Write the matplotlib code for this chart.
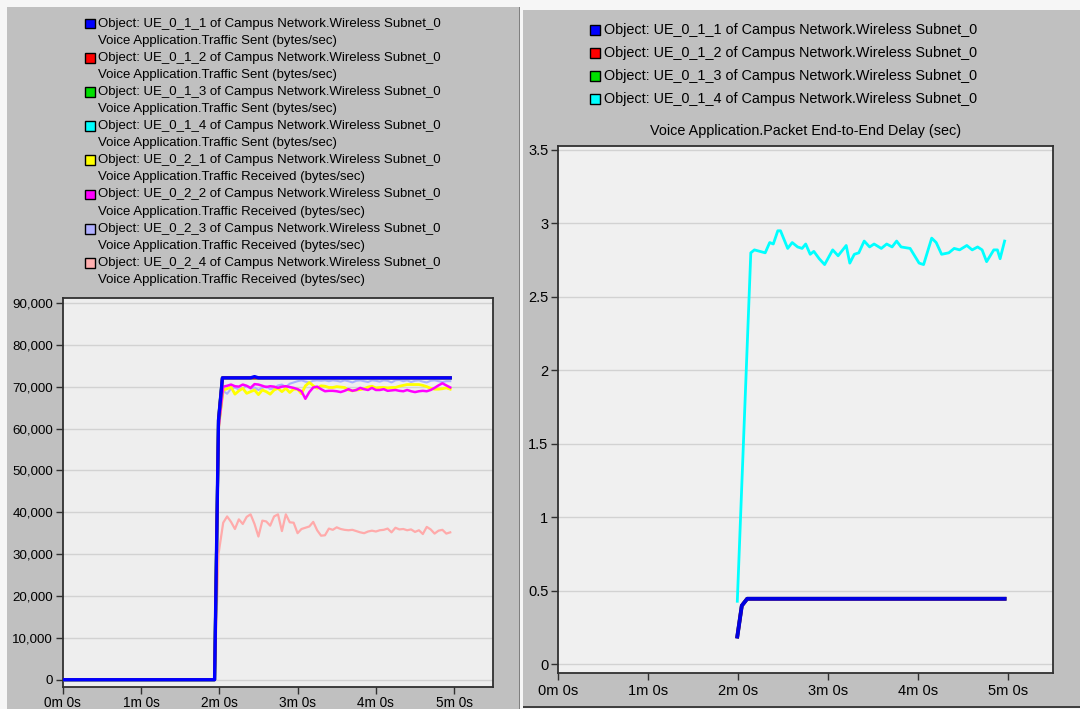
import matplotlib
matplotlib.use("Agg")
import matplotlib.pyplot as plt
from matplotlib.patches import Rectangle
from matplotlib.ticker import FuncFormatter

plt.rcParams['font.family'] = ['Liberation Sans', 'DejaVu Sans']

# ---------------- data ----------------
legend_left = [
    ("Object: UE_0_1_1 of Campus Network.Wireless Subnet_0", "Voice Application.Traffic Sent (bytes/sec)", "#0000ff"),
    ("Object: UE_0_1_2 of Campus Network.Wireless Subnet_0", "Voice Application.Traffic Sent (bytes/sec)", "#ff0000"),
    ("Object: UE_0_1_3 of Campus Network.Wireless Subnet_0", "Voice Application.Traffic Sent (bytes/sec)", "#00e000"),
    ("Object: UE_0_1_4 of Campus Network.Wireless Subnet_0", "Voice Application.Traffic Sent (bytes/sec)", "#00ffff"),
    ("Object: UE_0_2_1 of Campus Network.Wireless Subnet_0", "Voice Application.Traffic Received (bytes/sec)", "#ffff00"),
    ("Object: UE_0_2_2 of Campus Network.Wireless Subnet_0", "Voice Application.Traffic Received (bytes/sec)", "#ff00ff"),
    ("Object: UE_0_2_3 of Campus Network.Wireless Subnet_0", "Voice Application.Traffic Received (bytes/sec)", "#b0b0ff"),
    ("Object: UE_0_2_4 of Campus Network.Wireless Subnet_0", "Voice Application.Traffic Received (bytes/sec)", "#ffb0b0"),
]
legend_right = [
    ("Object: UE_0_1_1 of Campus Network.Wireless Subnet_0", "#0000ff"),
    ("Object: UE_0_1_2 of Campus Network.Wireless Subnet_0", "#ff0000"),
    ("Object: UE_0_1_3 of Campus Network.Wireless Subnet_0", "#00e000"),
    ("Object: UE_0_1_4 of Campus Network.Wireless Subnet_0", "#00ffff"),
]
right_title = "Voice Application.Packet End-to-End Delay (sec)"

x_tick_values = [0, 1, 2, 3, 4, 5]
x_tick_labels = ["0m 0s", "1m 0s", "2m 0s", "3m 0s", "4m 0s", "5m 0s"]
left_y_ticks = [0, 10000, 20000, 30000, 40000, 50000, 60000, 70000, 80000, 90000]
right_y_ticks = [0, 0.5, 1, 1.5, 2, 2.5, 3, 3.5]
right_y_labels = ["0", "0.5", "1", "1.5", "2", "2.5", "3", "3.5"]

# traffic sent (minutes, bytes/sec)
sent_time = [0.0, 1.94, 1.99, 2.04, 2.40, 2.45, 2.50, 4.95]
sent_ue011 = [0, 0, 62000, 72100, 72100, 72400, 72100, 72100]
sent_ue012 = [0, 0, 62000, 72100, 72100, 72100, 72100, 72100]
sent_ue013 = [0, 0, 62000, 72100, 72100, 72100, 72100, 72100]
sent_ue014 = [0, 0, 62000, 72100, 72100, 72100, 72100, 72100]

# traffic received (minutes, bytes/sec)
recv_time = [0.0, 1.94, 1.99,
             2.05, 2.10, 2.15, 2.20, 2.25, 2.30, 2.35, 2.40, 2.45, 2.50,
             2.55, 2.60, 2.65, 2.70, 2.75, 2.80, 2.85, 2.90, 2.95, 3.00,
             3.05, 3.10, 3.15, 3.20, 3.25, 3.30, 3.35, 3.40, 3.45, 3.50,
             3.55, 3.60, 3.65, 3.70, 3.75, 3.80, 3.85, 3.90, 3.95, 4.00,
             4.05, 4.10, 4.15, 4.20, 4.25, 4.30, 4.35, 4.40, 4.45, 4.50,
             4.55, 4.60, 4.65, 4.70, 4.75, 4.80, 4.85, 4.90, 4.95]
recv_ue021 = [0, 0, 60000,
              69200, 69500, 69900, 68200, 69000, 69600, 68400, 68800, 69200, 68100,
              69200, 68800, 68200, 69200, 69600, 68800, 69600, 68600, 69400, 69400,
              68300, 70200, 71000, 70200, 69600, 70200, 70100, 69800, 69800, 70000,
              69900, 69800, 69200, 69000, 69200, 69300, 69500, 69900, 70100, 69700,
              69800, 69800, 69700, 69800, 69800, 70100, 70300, 70500, 70500, 70500,
              70500, 70300, 70000, 69600, 69400, 69400, 69500, 69700, 69400]
recv_ue022 = [0, 0, 60000,
              70000, 70200, 70500, 70100, 70000, 70500, 70200, 69700, 70600, 70500,
              70200, 69900, 70100, 70000, 69700, 70000, 70100, 69900, 69700, 69400,
              68900, 67100, 68700, 69800, 70000, 69400, 68900, 69000, 69000, 68900,
              68700, 69000, 69400, 69000, 69200, 69700, 69400, 69200, 69700, 69200,
              69200, 69400, 69000, 69100, 69200, 69000, 68900, 69200, 68900, 68700,
              68900, 69000, 68900, 69200, 69700, 70300, 70800, 70300, 69800]
recv_ue023 = [0, 0, 60000,
              69000, 68300, 69500, 69800, 69300, 69600, 70200, 69500, 69800, 69200,
              69700, 70100, 69400, 69600, 70300, 70500, 69900, 70700, 71000, 71300,
              71500, 71200, 71000, 71400, 71500, 71400, 71500, 71300, 71500, 71400,
              71200, 71500, 71300, 71000, 71400, 71500, 71300, 71100, 71500, 71400,
              71200, 71500, 71400, 71000, 71500, 71600, 71300, 71500, 71100, 71400,
              71500, 71200, 71000, 71400, 71500, 71300, 71100, 71300, 71300]
recv_ue024 = [0, 0, 30000,
              37500, 39000, 37700, 36000, 38300, 37200, 38900, 39500, 37200, 34200,
              38000, 37800, 36800, 39000, 39500, 35500, 39500, 37600, 37500, 35000,
              36000, 36300, 36600, 37700, 35700, 34400, 34500, 36100, 35800, 36400,
              36000, 35800, 35700, 35800, 35500, 35200, 35000, 35400, 35600, 35400,
              35700, 35800, 36100, 35200, 36300, 35900, 36000, 35700, 35900, 35300,
              35700, 34800, 36500, 35900, 34900, 35600, 35800, 34900, 35200]

# packet end-to-end delay (minutes, sec)
delay_time_fast = [1.99, 2.04, 2.10, 4.96]
delay_ue011 = [0.19, 0.40, 0.447, 0.447]
delay_ue012 = [0.19, 0.40, 0.447, 0.447]
delay_ue013 = [0.19, 0.40, 0.447, 0.447]
delay_time_slow = [1.99, 2.14, 2.18, 2.24, 2.30, 2.35, 2.39, 2.44, 2.47, 2.55,
                   2.60, 2.66, 2.71, 2.75, 2.80, 2.84, 2.90, 2.96, 3.05, 3.11,
                   3.20, 3.24, 3.29, 3.34, 3.40, 3.46, 3.51, 3.59, 3.65, 3.71,
                   3.76, 3.81, 3.91, 4.01, 4.06, 4.15, 4.20, 4.26, 4.34, 4.40,
                   4.46, 4.54, 4.60, 4.66, 4.71, 4.76, 4.84, 4.88, 4.91, 4.96]
delay_ue014 = [0.43, 2.80, 2.82, 2.81, 2.80, 2.87, 2.86, 2.95, 2.95, 2.83,
               2.87, 2.84, 2.83, 2.86, 2.79, 2.81, 2.76, 2.72, 2.82, 2.78,
               2.85, 2.73, 2.79, 2.80, 2.88, 2.84, 2.86, 2.83, 2.86, 2.84,
               2.88, 2.84, 2.83, 2.73, 2.72, 2.90, 2.87, 2.79, 2.80, 2.83,
               2.82, 2.85, 2.82, 2.84, 2.82, 2.74, 2.82, 2.82, 2.76, 2.88]

# ---------------- figure ----------------
W, H = 1080, 709
fig = plt.figure(figsize=(W / 100, H / 100), dpi=100, facecolor="#f6f6f6")

def px_rect(x0, y0, x1, y1, z=-5, **kw):
    r = Rectangle((x0 / W, 1 - y1 / H), (x1 - x0) / W, (y1 - y0) / H,
                  transform=fig.transFigure, figure=fig, zorder=z, **kw)
    fig.patches.append(r)

# panels (behind the axes)
px_rect(7, 7, 520, 709, facecolor="#c0c0c0", edgecolor="none")
px_rect(518.5, 7, 520, 709, facecolor="#808080", edgecolor="none")
px_rect(523, 10, 1080, 707, facecolor="#c0c0c0", edgecolor="none")
px_rect(523, 706, 1080, 708, facecolor="#404040", edgecolor="none")

def fx(x):
    return x / W

def fy(y):
    return 1 - y / H

# left legend
row_h = 17.1
for i, (l1, l2, col) in enumerate(legend_left):
    y1 = 23.5 + 2 * i * row_h
    y2 = y1 + row_h
    px_rect(85, y1 - 4.8, 94.5, y1 + 4.8, z=2, facecolor=col, edgecolor="black", linewidth=1.0)
    fig.text(fx(98.5), fy(y1), l1, fontsize=9.55, va="center", ha="left", color="black")
    fig.text(fx(98.5), fy(y2), l2, fontsize=9.55, va="center", ha="left", color="black")

# right legend
for i, (l1, col) in enumerate(legend_right):
    y1 = 30 + i * 23
    px_rect(589.5, y1 - 5.2, 599.5, y1 + 5.2, z=2, facecolor=col, edgecolor="black", linewidth=1.0)
    fig.text(fx(603.5), fy(y1), l1, fontsize=10.35, va="center", ha="left", color="black")
fig.text(fx(806), fy(131), right_title, fontsize=10.35, va="center", ha="center", color="black")

def style_axes(ax, bg):
    ax.set_facecolor(bg)
    for s in ax.spines.values():
        s.set_color("#303030")
        s.set_linewidth(1.3)
    ax.grid(True, axis="y", color="#d2d2d2", linewidth=1.0)
    ax.set_axisbelow(True)
    ax.tick_params(axis="both", direction="out", length=5, width=1.0, color="#303030",
                   labelcolor="black")
    ax.set_xticks(x_tick_values)
    ax.set_xticklabels(x_tick_labels)
    ax.set_xlim(0, 5.5)

# left axes
axL = fig.add_axes([fx(62.7), fy(686.7), (493.3 - 62.7) / W, (686.7 - 298.3) / H])
style_axes(axL, "#eeeeee")
axL.set_ylim(-1667, 91100)
axL.set_yticks(left_y_ticks)
axL.yaxis.set_major_formatter(FuncFormatter(lambda v, p: f"{int(v):,}"))
axL.tick_params(axis="y", labelsize=9.6, pad=2)
axL.tick_params(axis="x", labelsize=9.8, pad=1.5)

axL.plot(recv_time, recv_ue024, color="#ffaaaa", linewidth=1.6, zorder=3)
axL.plot(recv_time, recv_ue023, color="#aab0ff", linewidth=1.5, zorder=3)
axL.plot(recv_time, recv_ue021, color="#ffff00", linewidth=2.0, zorder=4)
axL.plot(recv_time, recv_ue022, color="#ff00ff", linewidth=1.8, zorder=4)
axL.plot(sent_time, sent_ue014, color="#00ffff", linewidth=2.2, zorder=5)
axL.plot(sent_time, sent_ue013, color="#00e000", linewidth=2.2, zorder=5)
axL.plot(sent_time, sent_ue012, color="#ff0000", linewidth=2.2, zorder=5)
axL.plot(sent_time, sent_ue011, color="#0000ff", linewidth=2.4, zorder=6)

# right axes
axR = fig.add_axes([fx(558.2), fy(673.3), (1053.2 - 558.2) / W, (673.3 - 145.5) / H])
style_axes(axR, "#f0f0f0")
axR.set_ylim(-0.06, 3.53)
axR.set_yticks(right_y_ticks)
axR.set_yticklabels(right_y_labels)
axR.tick_params(axis="y", labelsize=10.5, pad=2)
axR.tick_params(axis="x", labelsize=10.5, pad=3)

axR.plot(delay_time_slow, delay_ue014, color="#00ffff", linewidth=2.0, zorder=4)
axR.plot(delay_time_fast, delay_ue013, color="#00e000", linewidth=2.6, zorder=5)
axR.plot(delay_time_fast, delay_ue012, color="#ff0000", linewidth=2.6, zorder=5)
axR.plot(delay_time_fast, delay_ue011, color="#0000e0", linewidth=2.8, zorder=6)

fig.savefig("out.png", dpi=100, facecolor=fig.get_facecolor())
